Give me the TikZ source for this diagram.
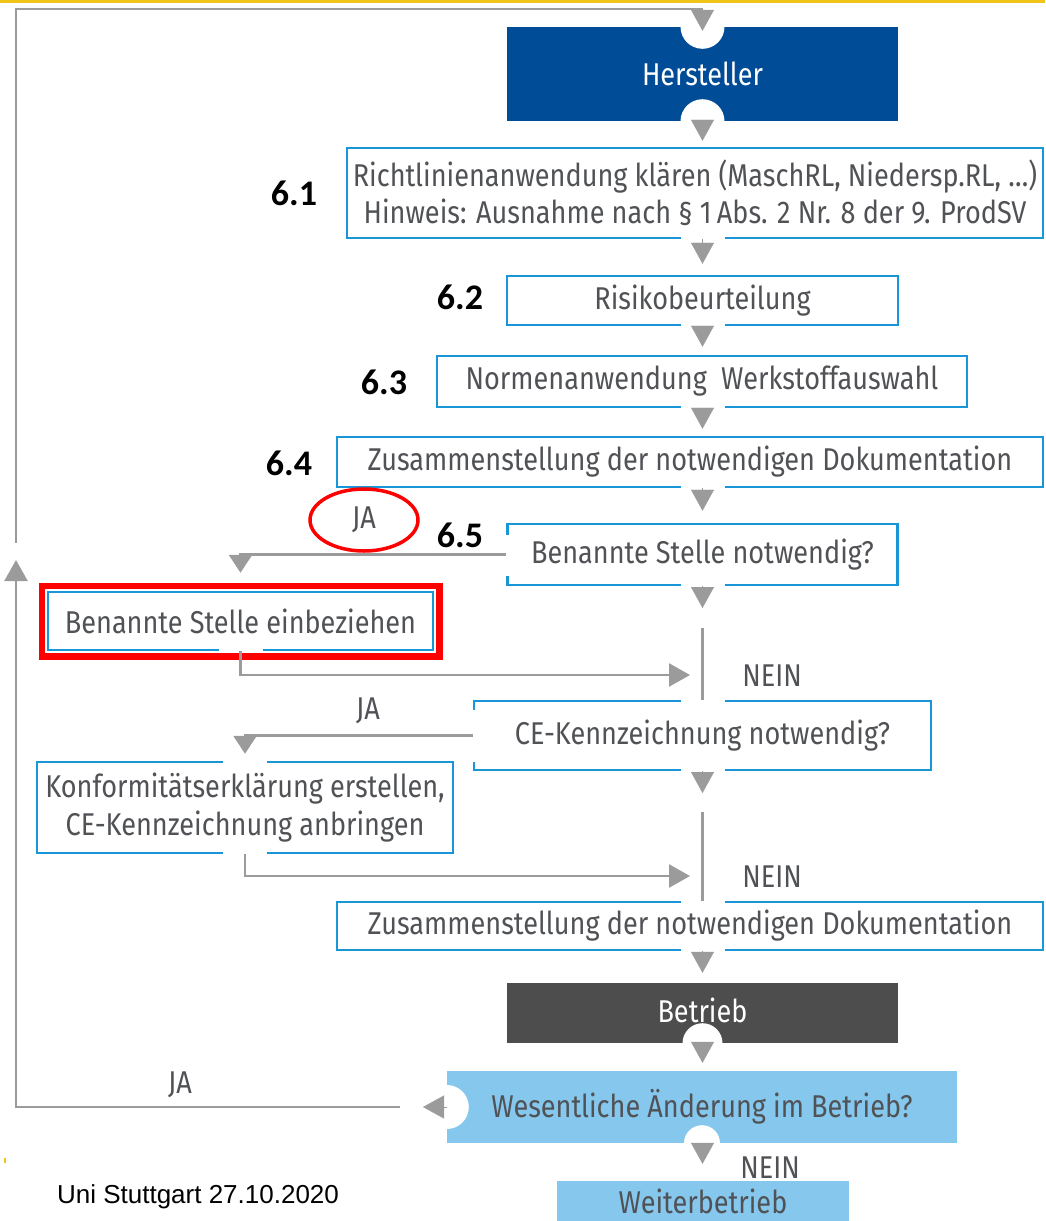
\documentclass[tikz,border=0pt]{standalone}
\usepackage{fontspec}
\setmainfont{Fira Sans}[FakeStretch=0.86]
\newfontfamily\numfont{Carlito}
\newfontfamily\footfont{Liberation Sans}
\usepackage{tikz}
\usetikzlibrary{arrows.meta,positioning,calc,fit,shapes.geometric}
\definecolor{boxblue}{RGB}{25,150,215}
\definecolor{herblue}{RGB}{0,76,151}
\definecolor{lightblue}{RGB}{133,199,237}
\definecolor{betriebgray}{RGB}{77,77,77}
\definecolor{linegray}{RGB}{155,155,155}
\definecolor{textgray}{RGB}{80,82,86}
\definecolor{topyellow}{RGB}{240,196,25}
\newcommand{\boxfont}{\fontsize{31.5}{37.5}\selectfont}
\newcommand{\gapS}[1]{\fill[white] ($(#1.south -| axis)+(-22,-4)$) rectangle ($(#1.south -| axis)+(22,3)$);}
\newcommand{\gapN}[1]{\fill[white] ($(#1.north -| axis)+(-22,-3)$) rectangle ($(#1.north -| axis)+(22,4)$);}
\newcommand{\gapW}[1]{\fill[white] ($(#1.west)+(-3,-20)$) rectangle ($(#1.west)+(4,21)$);}

\begin{document}
\begin{tikzpicture}[x=1pt, y=-1pt,
  box/.style={draw=boxblue, line width=2.5pt, fill=white, align=center, text=textgray, font=\boxfont, inner sep=0pt},
  solidbox/.style={fill=#1, align=center, font=\boxfont, inner sep=0pt},
  tri/.style={-{Triangle[length=21pt,width=23pt]}, draw=linegray, line width=0.4pt},
  line/.style={draw=linegray, line width=2.5pt},
  arrow/.style={line, -{Triangle[length=21pt,width=23pt]}},
  droparrow/.style={line, -{Triangle[length=18pt,width=23pt]}},
  label/.style={font=\boxfont, text=textgray},
  num/.style={font=\numfont\bfseries\fontsize{36}{40}\selectfont}
]
\useasboundingbox (0,0) rectangle (1045,1221);
\clip (0,0) rectangle (1045,1221);
\fill[topyellow] (0,0) rectangle (1045,3);
\fill[topyellow] (4,1158) rectangle (6,1163);
\coordinate (axis) at (702.5,0);

% main column
\node[solidbox=herblue, text=white, minimum width=391, minimum height=94] (hersteller) at (702.5,74) {Hersteller};
\node[box, minimum width=696, minimum height=90] (richt) at (695,193) {Richtlinienanwendung klären (MaschRL, Niedersp.RL, …)\\Hinweis: Ausnahme nach § 1\,Abs. 2 Nr. 8 der 9. ProdSV};
\node[box, minimum width=391, minimum height=49] (risiko) at (702.5,300.5) {Risikobeurteilung};
\node[box, minimum width=530, minimum height=51] (normen) at (702,381.5) {Normenanwendung \ Werkstoffauswahl};
\node[box, minimum width=706, minimum height=50] (dokuone) at (690,462) {Zusammenstellung der notwendigen Dokumentation};
\node[box, minimum width=390, minimum height=61] (benannt) at (702.5,554.5) {Benannte Stelle notwendig?};
\node[box, minimum width=457, minimum height=69] (ce) at (702.5,735.5) {CE-Kennzeichnung notwendig?};
\node[box, minimum width=706, minimum height=48] (dokutwo) at (690,926) {Zusammenstellung der notwendigen Dokumentation};
\node[solidbox=betriebgray, text=white, minimum width=391, minimum height=60] (betrieb) at (702.5,1013) {\raisebox{6pt}{Betrieb}};
\node[solidbox=lightblue, text=textgray, minimum width=510, minimum height=72] (wesent) at (702,1107) {\raisebox{-3pt}{Wesentliche Änderung im Betrieb?}};
\node[solidbox=lightblue, text=textgray, minimum width=292, minimum height=40] (weiter) at (703,1201) {Weiterbetrieb};
\fill[lightblue] (weiter.south west) rectangle (weiter.south east |- 0,1221);

% side column
\node[box, minimum width=385, minimum height=58] (einbez) at (240.5,621) {Benannte Stelle einbeziehen};
\node[box, minimum width=416, minimum height=91] (konf) at (245,807.5) {Konformitätserklärung erstellen,\\CE-Kennzeichnung anbringen};

% openings in the frames
\gapS{richt} \gapS{risiko} \gapS{normen} \gapS{dokuone} \gapS{benannt}
\gapN{ce} \gapS{ce} \gapN{dokutwo} \gapS{dokutwo}
\fill[white] ($(einbez.south)+(-22,-4)$) rectangle ($(einbez.south)+(22,3)$);
\fill[white] ($(konf.north)+(-22,-3)$) rectangle ($(konf.north)+(22,4)$);
\fill[white] ($(konf.south)+(-22,-4)$) rectangle ($(konf.south)+(22,3)$);
\gapW{benannt}
\fill[white] ($(ce.west)+(-3,-26)$) rectangle ($(ce.west)+(4,26)$);
\fill[white] (hersteller.north) circle (22);
\fill[white] (hersteller.south) circle (22);
\fill[white] (betrieb.south) circle (20);
\fill[white] (wesent.west) circle (22);
\fill[white] (wesent.south) circle (18);

\node[draw=red, line width=6.5pt, fit=(einbez), inner sep=5pt] (redframe) {};

% labels
\node[num] (n61) at (294,193) {6.1};
\node[num] (n62) at (460,297) {6.2};
\node[num] (n63) at (384,382) {6.3};
\node[num] (n64) at (289,463) {6.4};
\node[num] (n65) at (460,535) {6.5};
\node[label, draw=red, line width=3.5pt, ellipse, minimum width=108, minimum height=62] (jaone) at (364,520) {JA};
\node[label] (jatwo) at (368,711) {JA};
\node[label] (jathree) at (180,1085) {JA};
\node[label] (neinone) at (772,676) {NEIN};
\node[label] (neintwo) at (772,877) {NEIN};
\node[label] (neinthree) at (770,1168) {NEIN};
\node[font=\footfont\fontsize{26}{30}\selectfont] (footer) at (198,1197) {Uni Stuttgart 27.10.2020};

% connectors
\coordinate (vone) at (702.5,628);
\coordinate (vtwo) at (702.5,812);
\coordinate (neinonetip) at (690,675);
\coordinate (neintwotip) at (690,876);
\coordinate (jaturn) at (400,1107);
\coordinate (uptip) at (16,560);
\coordinate (upgo) at (16,543);
\coordinate (topturn) at (702.5,9);

\draw[tri, shorten >=6] (hersteller.south) -- (richt.north -| axis);
\draw[tri, shorten >=11] (richt.south -| axis) -- (risiko.north);
\draw[tri, shorten >=8] (risiko.south) -- (normen.north -| axis);
\draw[tri, shorten >=7] (normen.south -| axis) -- (dokuone.north -| axis);
\draw[tri, shorten >=12] (dokuone.south -| axis) -- (benannt.north);
\draw[tri, shorten >=20] (benannt.south) -- (vone);
\draw[tri, shorten >=19] (ce.south) -- (vtwo);
\draw[tri, shorten >=10] (dokutwo.south -| axis) -- (betrieb.north);
\draw[tri, shorten >=8] (betrieb.south) -- (wesent.north -| axis);
\draw[tri, shorten >=17] (wesent.south -| axis) -- (weiter.north -| axis);

\draw[droparrow, shorten >=18] (benannt.west) -| (einbez.north);
\draw[arrow] (einbez.south) |- (neinonetip);
\draw[line] (vone) -- (ce.north);
\draw[droparrow, shorten >=7] (ce.west) -| (konf.north);
\draw[arrow] (konf.south) |- (neintwotip);
\draw[line] (vtwo) -- (dokutwo.north -| vtwo);

\draw[tri, shorten >=23] (wesent.west) -- (jaturn);
\draw[arrow] (jaturn) -| (uptip);
\draw[line] (upgo) |- (topturn);
\draw[tri, shorten >=-4] (topturn) -- (hersteller.north);
\end{tikzpicture}
\end{document}
